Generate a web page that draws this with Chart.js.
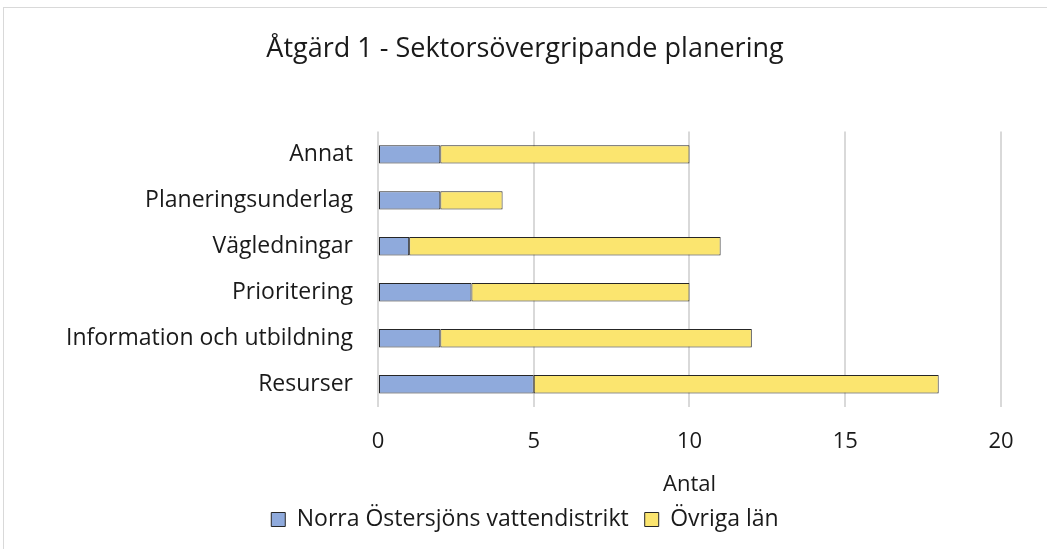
<!DOCTYPE html>
<html>
<head>
<meta charset="utf-8">
<script src="https://cdn.jsdelivr.net/npm/chart.js@4"></script>
<style>
  body { margin: 0; background: #fff; }
  #wrap { position: absolute; left: 3px; top: 7px; width: 1050px; height: 550px; border: 1px solid #d9d9d9; box-sizing: border-box; }
  #box { position: absolute; left: 0; top: 0; width: 1047px; height: 549px; }
</style>
</head>
<body>
<div id="wrap"></div>
<div id="box"><canvas id="chart"></canvas></div>
<script>
const categories = ['Annat', 'Planeringsunderlag', 'Vägledningar', 'Prioritering', 'Information och utbildning', 'Resurser'];
const norra = [2, 2, 1, 3, 2, 5];
const ovriga = [8, 2, 10, 7, 10, 13];
const xTicks = [0, 5, 10, 15, 20];

const font = 'Open Sans';

const ctx = document.getElementById('chart').getContext('2d');
const chart = new Chart(ctx, {
  type: 'bar',
  data: {
    labels: categories,
    datasets: [{
      label: 'Norra Östersjöns vattendistrikt',
      data: norra,
      backgroundColor: '#8faadc',
      borderColor: '#262626',
      borderWidth: 1,
      borderSkipped: false,
      categoryPercentage: 0.4,
      barPercentage: 1
    }, {
      label: 'Övriga län',
      data: ovriga,
      backgroundColor: '#fbe56f',
      borderColor: '#262626',
      borderWidth: 1,
      borderSkipped: false,
      categoryPercentage: 0.4,
      barPercentage: 1
    }]
  },
  options: {
    indexAxis: 'y',
    responsive: true,
    maintainAspectRatio: false,
    animation: false,
    layout: {
      padding: { left: 49, right: 46, top: 20, bottom: 8 }
    },
    plugins: {
      title: {
        display: true,
        text: 'Åtgärd 1 - Sektorsövergripande planering',
        color: '#1a1a1a',
        font: { size: 27, family: font, weight: 'normal' },
        padding: { top: 13, bottom: 66 }
      },
      legend: {
        position: 'bottom',
        labels: {
          color: '#1a1a1a',
          font: { size: 23, family: font },
          boxWidth: 14,
          boxHeight: 14,
          padding: 16
        }
      },
      tooltip: { enabled: false }
    },
    scales: {
      x: {
        stacked: true,
        min: 0,
        max: 20,
        afterBuildTicks: (axis) => {
          axis.ticks = xTicks.map(v => ({ value: v }));
        },
        grid: { color: '#d9d9d9', lineWidth: 2, drawTicks: false },
        border: { display: false },
        ticks: {
          color: '#1a1a1a',
          font: { size: 22, family: font },
          padding: 21
        },
        title: {
          display: true,
          text: 'Antal',
          color: '#1a1a1a',
          font: { size: 22, family: font },
          padding: { top: -4, bottom: -6 }
        }
      },
      y: {
        stacked: true,
        grid: { display: false },
        border: { display: false },
        ticks: {
          color: '#1a1a1a',
          font: { size: 23, family: font },
          padding: 17
        }
      }
    }
  }
});
</script>
</body>
</html>
